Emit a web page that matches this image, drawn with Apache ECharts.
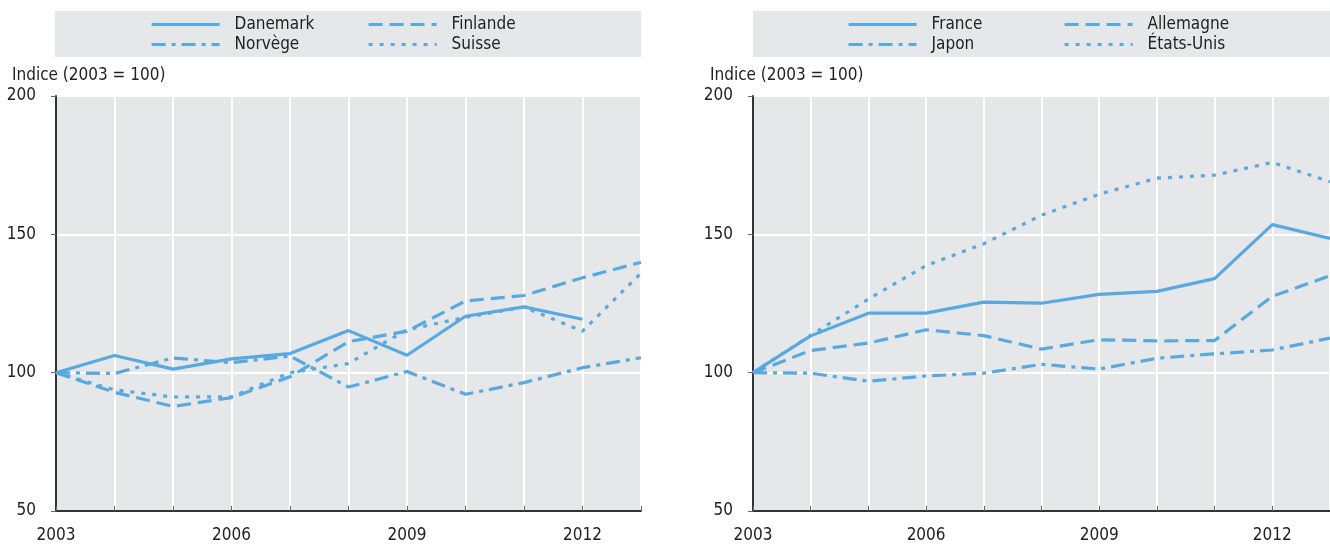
<!DOCTYPE html>
<html>
<head>
<meta charset="utf-8">
<script src="https://cdn.jsdelivr.net/npm/echarts@6/dist/echarts.min.js"></script>
<style>
  html, body { margin: 0; padding: 0; background: #fff; }
  #chart { width: 1330px; height: 544px; }
</style>
</head>
<body>
<div id="chart"></div>
<script>
// années 2003 = 100
const years = ['2003', '2004', '2005', '2006', '2007', '2008', '2009', '2010', '2011', '2012', '2013'];
const yTicks = [50, 100, 150, 200];

// panneau gauche
const danemark = [100, 106.2, 101.3, 105, 106.9, 115.2, 106.3, 120.4, 123.8, 119.3, null];
const finlande = [100, 92.9, 87.8, 91, 98.5, 111.2, 115, 125.9, 127.9, 134.3, 139.9];
const norvege = [100, 99.7, 105.3, 103.6, 106, 94.8, 100.4, 92.2, 96.4, 101.8, 105.4];
const suisse = [100, 93.8, 91.2, 91.3, 100, 103.3, 115.5, 120, 123.7, 115, 136];

// panneau droit
const france = [100, 113.3, 121.5, 121.5, 125.5, 125.1, 128.3, 129.4, 134, 153.5, 148.5];
const allemagne = [100, 108, 110.7, 115.5, 113.4, 108.5, 111.9, 111.5, 111.6, 127.6, 135];
const japon = [100, 99.8, 96.9, 98.8, 99.8, 103, 101.3, 105.2, 106.8, 108.2, 112.5];
const etatsUnis = [100, 113.5, 126.6, 138.7, 146.6, 156.9, 164.5, 170.3, 171.4, 176, 169];

const FONT = "'DejaVu Sans Condensed', 'Liberation Sans', sans-serif";
const FS = 17;
const BLUE = '#58a9e0';
const PANEL = '#e6e7e9';

const solid = 'solid';
const dashed = [14, 7];
const dashDot = [14, 6, 4, 6];
const dotted = [4, 7];

const grids = [
  { left: 56, top: 96, width: 585, height: 416 },
  { left: 753, top: 96, width: 586, height: 416 }
];

function xAxisFor(i) {
  return {
    type: 'category',
    gridIndex: i,
    data: years,
    boundaryGap: false,
    axisLine: { lineStyle: { color: '#333', width: 2 } },
    axisTick: { show: true, inside: true, length: 5, interval: 0, lineStyle: { color: '#666', width: 1 } },
    axisLabel: { interval: 2, margin: 16, color: '#222', fontSize: FS, fontFamily: FONT },
    splitLine: { show: true, interval: 0, lineStyle: { color: '#fff', width: 2 } }
  };
}

function yAxisFor(i) {
  return {
    type: 'value',
    gridIndex: i,
    min: yTicks[0],
    max: yTicks[yTicks.length - 1],
    interval: 50,
    axisLine: { show: true, lineStyle: { color: '#333', width: 2 } },
    axisTick: { show: true, length: 5, lineStyle: { color: '#666' } },
    axisLabel: { margin: 20, color: '#222', fontSize: FS, fontFamily: FONT },
    splitLine: { show: true, lineStyle: { color: '#fff', width: 2 } }
  };
}

function line(name, data, type, i) {
  return {
    name: name,
    type: 'line',
    xAxisIndex: i,
    yAxisIndex: i,
    data: data,
    symbol: 'none',
    showSymbol: false,
    connectNulls: false,
    lineStyle: { color: BLUE, width: 3.2, type: type },
    itemStyle: { color: BLUE },
    z: 3
  };
}

function legend(names, left) {
  return {
    orient: 'vertical',
    left: left,
    top: 16,
    padding: 0,
    data: names,
    itemWidth: 68,
    itemHeight: 12,
    itemGap: 3,
    selectedMode: false,
    itemStyle: { opacity: 0 },
    lineStyle: { width: 3.2 },
    textStyle: { fontSize: FS, fontFamily: FONT, color: '#222', padding: [0, 0, 0, 10] }
  };
}

const chart = echarts.init(document.getElementById('chart'));
chart.setOption({
  animation: false,
  grid: grids.map(g => Object.assign({ show: true, backgroundColor: PANEL, borderWidth: 0 }, g)),
  xAxis: [xAxisFor(0), xAxisFor(1)],
  yAxis: [yAxisFor(0), yAxisFor(1)],
  legend: [
    legend(['Danemark', 'Norvège'], 150),
    legend(['Finlande', 'Suisse'], 367),
    legend(['France', 'Japon'], 847),
    legend(['Allemagne', 'États-Unis'], 1063)
  ],
  graphic: [
    { type: 'rect', left: 55, top: 11, shape: { width: 586, height: 46 }, style: { fill: PANEL }, z: -1 },
    { type: 'rect', left: 753, top: 11, shape: { width: 600, height: 46 }, style: { fill: PANEL }, z: -1 },
    { type: 'text', left: 12, top: 67, style: { text: 'Indice (2003 = 100)', fontSize: FS, fontFamily: FONT, fill: '#222' } },
    { type: 'text', left: 710, top: 67, style: { text: 'Indice (2003 = 100)', fontSize: FS, fontFamily: FONT, fill: '#222' } }
  ],
  series: [
    line('Danemark', danemark, solid, 0),
    line('Finlande', finlande, dashed, 0),
    line('Norvège', norvege, dashDot, 0),
    line('Suisse', suisse, dotted, 0),
    line('France', france, solid, 1),
    line('Allemagne', allemagne, dashed, 1),
    line('Japon', japon, dashDot, 1),
    line('États-Unis', etatsUnis, dotted, 1)
  ]
});
</script>
</body>
</html>
